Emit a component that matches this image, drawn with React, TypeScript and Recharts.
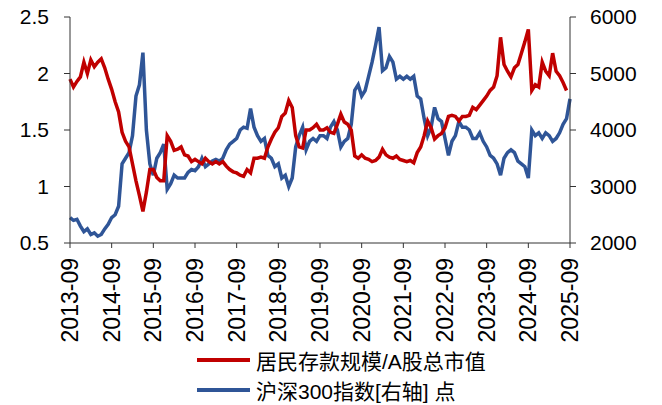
import { LineChart, Line, XAxis, YAxis } from 'recharts'

// monthly categories 2013-09 .. 2025-09
const months: string[] = Array.from({ length: 145 }, (_, i) => {
  const total = 2013 * 12 + 8 + i
  const y = Math.floor(total / 12)
  const m = (total % 12) + 1
  return `${y}-${m < 10 ? '0' + m : m}`
})

const yearTicks = [
  '2013-09', '2014-09', '2015-09', '2016-09', '2017-09', '2018-09', '2019-09',
  '2020-09', '2021-09', '2022-09', '2023-09', '2024-09', '2025-09',
]

// 居民存款规模/A股总市值
const depositRatio: (number | null)[] = [
  1.95, 1.88, 1.93, 1.97, 2.10, 2.00, 2.12, 2.06, 2.10, 2.13, 2.05, 1.95,
  1.86, 1.75, 1.66, 1.48, 1.40, 1.35, 1.20, 1.05, 0.92, 0.78, 0.95, 1.15,
  1.15, 1.08, 1.05, 1.05, 1.45, 1.40, 1.32, 1.33, 1.35, 1.28, 1.27, 1.22,
  1.24, 1.22, 1.20, 1.25, 1.22, 1.20, 1.22, 1.20, 1.22, 1.18, 1.15, 1.13,
  1.12, 1.10, 1.09, 1.15, 1.12, 1.25, 1.25, 1.26, 1.25, 1.35, 1.42, 1.48,
  1.52, 1.62, 1.65, 1.76, 1.70, 1.45, 1.35, 1.34, 1.50, 1.50, 1.52, 1.55,
  1.50, 1.50, 1.52, 1.48, 1.47, 1.55, 1.64, 1.57, 1.55, 1.50, 1.27, 1.25,
  1.28, 1.25, 1.24, 1.22, 1.23, 1.26, 1.33, 1.28, 1.26, 1.25, 1.27, 1.24,
  1.23, 1.22, 1.23, 1.21, 1.30, 1.35, 1.45, 1.58, 1.52, 1.42, 1.45, 1.47,
  1.52, 1.62, 1.63, 1.62, 1.58, 1.62, 1.62, 1.63, 1.70, 1.68, 1.72, 1.76,
  1.80, 1.85, 1.88, 1.98, 2.32, 2.08, 2.02, 1.97, 2.05, 2.08, 2.18, 2.28,
  2.39, 1.85, 1.90, 1.88, 2.10, 2.02, 1.98, 2.18, 2.02, 1.98, 1.92, 1.85,
  null,
]

// 沪深300指数
const csi300: number[] = [
  2450, 2400, 2420, 2300, 2200, 2250, 2150, 2180, 2120, 2150, 2250, 2330,
  2450, 2500, 2650, 3400, 3500, 3600, 3900, 4600, 4800, 5370, 4000, 3400,
  3200, 3500, 3600, 3750, 2950, 3050, 3200, 3150, 3150, 3150, 3250, 3300,
  3280, 3350, 3500, 3350, 3400, 3450, 3480, 3450, 3500, 3650, 3750, 3800,
  3850, 4000, 4050, 4030, 4380, 4050, 3900, 3800, 3850, 3550, 3500, 3350,
  3400, 3150, 3200, 3000, 3150, 3700, 3900, 4050, 3650, 3800, 3850, 3800,
  3900, 3900, 3850, 4050, 4150, 4000, 3700, 3800, 3850, 4100, 4700, 4800,
  4600, 4700, 4950, 5200, 5500, 5820, 5050, 5100, 5300, 5200, 4900, 4950,
  4900, 4950, 4900, 4950, 4600, 4550, 4200, 3900, 4050, 4400, 4200, 4150,
  3850, 3550, 3800, 3900, 4150, 4050, 4050, 4000, 3850, 3850, 3950, 3800,
  3700, 3550, 3500, 3400, 3200, 3500, 3600, 3650, 3600, 3450, 3400, 3350,
  3150, 4000, 3900, 3950, 3850, 3950, 3900, 3800, 3850, 3950, 4100, 4200,
  4550,
]

const leftTicks = [0.5, 1, 1.5, 2, 2.5]
const rightTicks = [2000, 2500, 3000, 3500, 4000, 4500, 5000, 5500, 6000]

const RED = '#C00000'
const BLUE = '#2F5597'
const AXIS = '#333'
const FONT = '"Liberation Sans", Arial, sans-serif'
const CJK = '"Liberation Sans", "Noto Sans CJK SC", sans-serif'

const data = months.map((date, i) => ({
  date,
  ratio: depositRatio[i],
  index: csi300[i],
}))

function XTick({ x, y, payload }: any) {
  return (
    <g transform={`translate(${x},${y})`}>
      <text
        transform="rotate(-90)"
        textAnchor="end"
        dominantBaseline="central"
        fill="#000"
        fontSize={23}
        fontFamily={FONT}
      >
        {payload.value}
      </text>
    </g>
  )
}

const legendItems = [
  { label: '居民存款规模/A股总市值', color: RED },
  { label: '沪深300指数[右轴] 点', color: BLUE },
]

export default function App() {
  return (
    <div style={{ position: 'absolute', left: 0, top: 0, width: 662, height: 405, background: '#fff' }}>
      <LineChart width={662} height={405} data={data} margin={{ top: 17, right: 0, bottom: 0, left: 0 }}>
        <XAxis
          dataKey="date"
          ticks={yearTicks}
          interval={0}
          height={162}
          tick={<XTick />}
          tickSize={5}
          tickMargin={10}
          stroke={AXIS}
          tickLine={{ stroke: AXIS }}
        />
        <YAxis
          yAxisId="left"
          orientation="left"
          width={70}
          domain={[0.5, 2.5]}
          ticks={leftTicks}
          tickSize={6}
          tickMargin={15}
          stroke={AXIS}
          tick={{ fill: '#000', fontSize: 21, fontFamily: FONT }}
          allowDataOverflow
        />
        <YAxis
          yAxisId="right"
          orientation="right"
          width={92}
          domain={[2000, 6000]}
          ticks={rightTicks}
          tickSize={6}
          tickMargin={14}
          stroke={AXIS}
          tick={{ fill: '#000', fontSize: 21, fontFamily: FONT, textAnchor: 'start' }}
          allowDataOverflow
        />
        <Line
          yAxisId="right"
          dataKey="index"
          stroke={BLUE}
          strokeWidth={3.5}
          dot={false}
          isAnimationActive={false}
        />
        <Line
          yAxisId="left"
          dataKey="ratio"
          stroke={RED}
          strokeWidth={3.5}
          dot={false}
          isAnimationActive={false}
        />
      </LineChart>
      <div style={{ position: 'absolute', left: 197, top: 345, fontFamily: CJK, fontSize: 21, color: '#000' }}>
        {legendItems.map((it) => (
          <div key={it.label} style={{ display: 'flex', alignItems: 'center', height: 30 }}>
            <span style={{ display: 'inline-block', width: 53, height: 4, background: it.color, marginRight: 6 }} />
            <span>{it.label}</span>
          </div>
        ))}
      </div>
    </div>
  )
}
